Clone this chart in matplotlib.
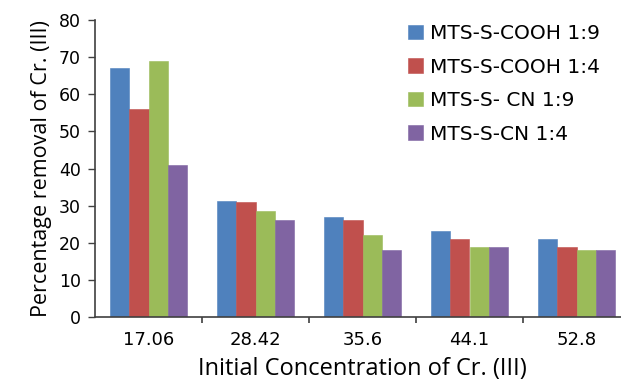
import matplotlib
matplotlib.use("Agg")
import matplotlib.pyplot as plt
import numpy as np

concentrations = ["17.06", "28.42", "35.6", "44.1", "52.8"]
series_names = ["MTS-S-COOH 1:9", "MTS-S-COOH 1:4", "MTS-S- CN 1:9", "MTS-S-CN 1:4"]
cooh_19 = [67.0, 31.3, 26.9, 23.1, 21.1]
cooh_14 = [56.0, 30.9, 26.0, 21.1, 18.9]
cn_19 = [69.0, 28.6, 22.1, 18.9, 18.0]
cn_14 = [41.0, 26.0, 18.0, 18.9, 18.0]
y_ticks = [0, 10, 20, 30, 40, 50, 60, 70, 80]

colors = ["#4F81BD", "#C0504D", "#9BBB59", "#8064A2"]
series = [cooh_19, cooh_14, cn_19, cn_14]

W, H = 621, 380
fig = plt.figure(figsize=(W / 100, H / 100), dpi=100)
ax = fig.add_axes([95 / W, (H - 317) / H, 535 / W, 297 / H])

x = np.arange(len(concentrations))
bw = 0.182
for i, (vals, name, c) in enumerate(zip(series, series_names, colors)):
    ax.bar(x + (i - 1.5) * bw, vals, width=bw, color=c, label=name,
           edgecolor=c, linewidth=0.4)

ax.set_xlim(-0.5, len(concentrations) - 0.5)
ax.set_ylim(0, 80)
ax.set_yticks(y_ticks)

# category boundaries carry the tick marks, labels sit at the centres
ax.set_xticks(np.arange(0.5, len(concentrations) - 0.5, 1.0))
ax.set_xticklabels([])
ax.set_xticks(x, minor=True)
ax.set_xticklabels(concentrations, minor=True)
ax.tick_params(axis="x", which="minor", length=0, pad=10, labelsize=13)
ax.tick_params(axis="x", which="major", length=4, width=1.2, color="#404040",
               direction="out")
ax.tick_params(axis="y", length=5, width=1.0, color="#404040", labelsize=12.5,
               pad=5)

for side in ("top", "right"):
    ax.spines[side].set_visible(False)
for side in ("left", "bottom"):
    ax.spines[side].set_color("#404040")
    ax.spines[side].set_linewidth(1.2)

ax.set_ylabel("Percentage removal of Cr. (III)", family="Open Sans",
              fontsize=15.5, labelpad=5)
ax.set_xlabel("Initial Concentration of Cr. (III)", family="Open Sans",
              fontsize=17, labelpad=6)

ax.legend(loc="upper left", bbox_to_anchor=(390 / W, 1 - 6 / H),
          bbox_transform=fig.transFigure, frameon=False,
          fontsize=14.5, handlelength=0.72, handleheight=0.72,
          handletextpad=0.35, labelspacing=0.72)

fig.savefig("out.png", dpi=100)
